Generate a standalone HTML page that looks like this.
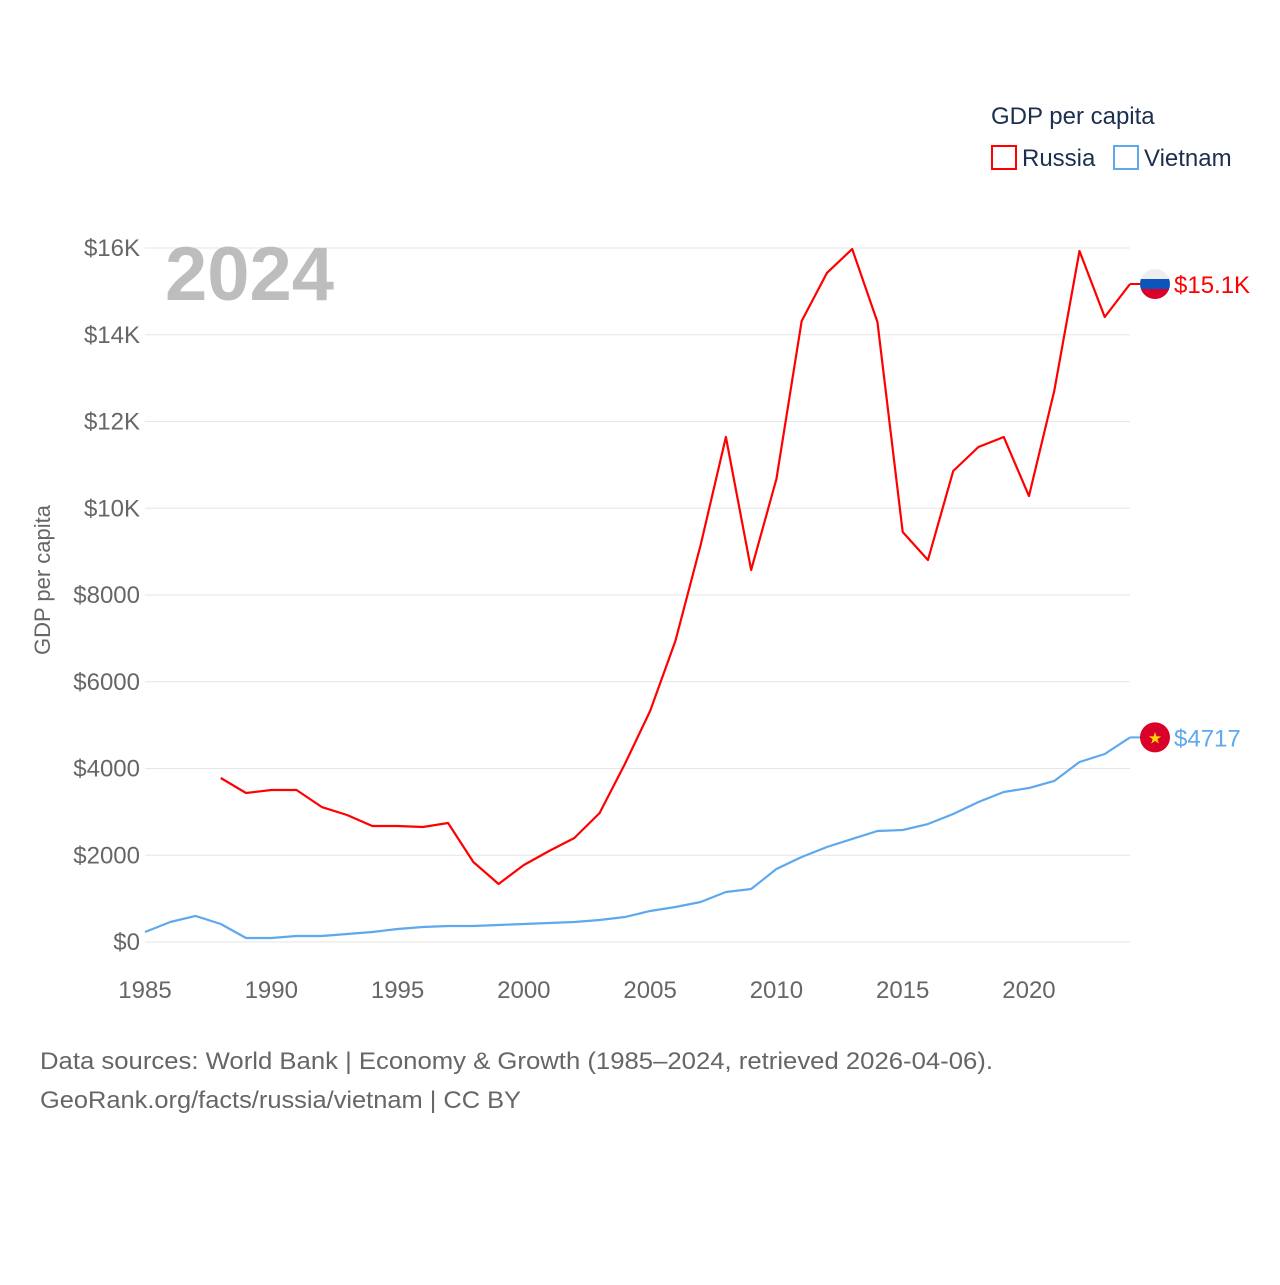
<!DOCTYPE html>
<html><head><meta charset="utf-8"><style>
body{margin:0;background:#fff;}
svg text{font-family:"Liberation Sans",sans-serif;}
</style></head><body>
<svg id="chart" width="1280" height="1280" xmlns="http://www.w3.org/2000/svg">
<rect width="1280" height="1280" fill="#fff"/>
<g id="grid"></g>
<g id="yticks"></g>
<g id="xticks"></g>
<text transform="translate(50,580) rotate(-90)" text-anchor="middle" font-size="22" fill="#666">GDP per capita</text>
<text x="165" y="300" font-size="76" font-weight="bold" fill="#bdbdbd">2024</text>
<g>
<text x="991" y="124" font-size="24" fill="#1b2f4e">GDP per capita</text>
<rect x="992" y="146" width="24" height="23" fill="none" stroke="#f00" stroke-width="2"/>
<text x="1022" y="166" font-size="24" fill="#1b2f4e">Russia</text>
<rect x="1114" y="146" width="24" height="23" fill="none" stroke="#5ea8ee" stroke-width="2"/>
<text x="1144" y="166" font-size="24" fill="#1b2f4e">Vietnam</text>
</g>
<g id="series"></g>
<text x="40" y="1069" font-size="24" fill="#666" textLength="953" lengthAdjust="spacingAndGlyphs">Data sources: World Bank | Economy &amp; Growth (1985–2024, retrieved 2026-04-06).</text>
<text x="40" y="1108" font-size="24" fill="#666" textLength="481" lengthAdjust="spacingAndGlyphs">GeoRank.org/facts/russia/vietnam | CC BY</text>
</svg>
<script>
const years = [];for(let y=1985;y<=2024;y++)years.push(y);
const russia = [null,null,null,3781,3435,3504,3504,3112,2928,2674,2674,2651,2744,1844,1337,1775,2098,2398,2974,4104,5326,6940,9153,11643,8576,10674,14317,15424,15977,14294,9452,8807,10859,11412,11643,10282,12703,15931,14409,15170];
const vietnam = [231,461,600,415,92,92,138,138,184,231,300,346,369,369,392,415,438,461,507,576,715,807,922,1153,1222,1683,1960,2190,2375,2559,2582,2720,2951,3228,3458,3550,3712,4150,4334,4717];
const yTicks = [0,2000,4000,6000,8000,10000,12000,14000,16000];
const yTickLabels = ["$0","$2000","$4000","$6000","$8000","$10K","$12K","$14K","$16K"];
const xTicks = [1985,1990,1995,2000,2005,2010,2015,2020];
const endLabels = ["$15.1K","$4717"];
const NS="http://www.w3.org/2000/svg";
const X=y=>145+(y-1985)*(1130-145)/39;
const Y=v=>942-v*(942-248)/16000;
function el(t,a,p){const e=document.createElementNS(NS,t);for(const k in a)e.setAttribute(k,a[k]);p.appendChild(e);return e;}
const grid=document.getElementById('grid'),yt=document.getElementById('yticks'),xt=document.getElementById('xticks'),ser=document.getElementById('series');
yTicks.forEach((v,i)=>{
 const l=el('line',{x1:145,x2:1130,y1:Y(v),y2:Y(v),stroke:'#e6e6e6','stroke-width':1},grid);
 
 
 const t=el('text',{x:140,y:Y(v)+8,'text-anchor':'end','font-size':24,fill:'#666'},yt);
 t.textContent=yTickLabels[i];
 
 
});
xTicks.forEach(v=>{
 const t=el('text',{x:X(v),y:998,'text-anchor':'middle','font-size':24,fill:'#666'},xt);
 t.textContent=v;
 
 
});
function line(data,color,name){
 let d='';let pen=false;
 data.forEach((v,i)=>{if(v==null){pen=false;return;}d+=(pen?'L':'M')+X(years[i])+','+Y(v);pen=true;});
 const p=el('path',{d:d,fill:'none',stroke:color,'stroke-width':2.2,'stroke-linejoin':'round'},ser);
 
 
}
line(russia,'#f00','russia-line');
line(vietnam,'#5ea8ee','vietnam-line');
function endMarker(v,color,label,flag,name){
 const y=Y(v);
 const c=el('line',{x1:1130,x2:1142,y1:y,y2:y,stroke:color,'stroke-width':2},ser);
 
 
 const g=el('g',{},ser);
 
 
 const cx=1155,r=15;
 if(flag==='ru'){
  const cp=el('clipPath',{id:'ruclip'},g);el('circle',{cx:cx,cy:y,r:r},cp);
  el('rect',{x:cx-r,y:y-r,width:2*r,height:10,fill:'#eee','clip-path':'url(#ruclip)'},g);
  el('rect',{x:cx-r,y:y-r+10,width:2*r,height:10,fill:'#0b55bd','clip-path':'url(#ruclip)'},g);
  el('rect',{x:cx-r,y:y-r+20,width:2*r,height:10,fill:'#d9002a','clip-path':'url(#ruclip)'},g);
 }else{
  el('circle',{cx:cx,cy:y,r:r,fill:'#d9002a'},g);
  const t=el('text',{x:cx,y:y+6,'text-anchor':'middle','font-size':16,fill:'#ffd800'},g);t.textContent='★';
 }
 const t=el('text',{x:1174,y:y+9,'font-size':24,fill:color},ser);
 t.textContent=label;
 
 
}
endMarker(russia[russia.length-1],'#f00',endLabels[0],'ru','russia');
endMarker(vietnam[vietnam.length-1],'#5ea8ee',endLabels[1],'vn','vietnam');
</script>
</body></html>
